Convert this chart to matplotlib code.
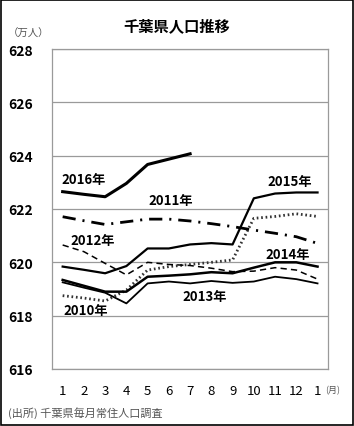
import matplotlib
matplotlib.use("Agg")
import matplotlib.pyplot as plt
from matplotlib.patches import Rectangle

plt.rcParams['font.family'] = ['Noto Sans CJK JP', 'DejaVu Sans']
plt.rcParams['lines.scale_dashes'] = False

# data (万人), months Jan .. next Jan
months = list(range(1, 14))
month_labels = ['1', '2', '3', '4', '5', '6', '7', '8', '9', '10', '11', '12', '1']
pop_2010 = [618.75, 618.66, 618.55, 618.96, 619.71, 619.84, 619.92, 620.00, 620.09, 621.65, 621.72, 621.82, 621.72]
pop_2011 = [621.71, 621.56, 621.42, 621.52, 621.62, 621.62, 621.55, 621.45, 621.34, 621.21, 621.09, 620.96, 620.71]
pop_2012 = [620.65, 620.40, 619.96, 619.53, 620.00, 619.92, 619.88, 619.78, 619.65, 619.67, 619.80, 619.71, 619.37]
pop_2013 = [619.25, 619.05, 618.86, 618.46, 619.21, 619.28, 619.21, 619.30, 619.23, 619.28, 619.46, 619.37, 619.21]
pop_2014 = [619.34, 619.12, 618.90, 618.90, 619.46, 619.50, 619.55, 619.63, 619.59, 619.80, 620.00, 620.00, 619.84]
pop_2015 = [619.84, 619.72, 619.59, 619.86, 620.52, 620.52, 620.67, 620.72, 620.67, 622.40, 622.58, 622.62, 622.62]
pop_2016 = [622.65, 622.55, 622.46, 622.96, 623.67, 623.87, 624.07]

fig = plt.figure(figsize=(3.54, 4.27), dpi=100)
ax = fig.add_axes([0.147, 0.1335, 0.78, 0.7494])

ax.plot(months, pop_2010, color='#333333', lw=2.0, linestyle=(0, (1.2, 2.0)))
ax.plot(months, pop_2011, color='black', lw=2.0, dashes=[9.5, 5, 1.5, 5])
ax.plot(months, pop_2012, color='black', lw=1.1, dashes=[4.5, 3])
ax.plot(months, pop_2013, color='black', lw=1.3)
ax.plot(months, pop_2014, color='black', lw=1.8)
ax.plot(months, pop_2015, color='black', lw=1.6)
ax.plot(months[:len(pop_2016)], pop_2016, color='black', lw=2.2)

lab = dict(fontsize=9.5, fontweight='bold', ha='center', va='center')
ax.text(2.0, 623.12, '2016年', **lab)
ax.text(6.1, 622.32, '2011年', **lab)
ax.text(11.7, 623.05, '2015年', **lab)
ax.text(2.4, 620.82, '2012年', **lab)
ax.text(11.6, 620.3, '2014年', **lab)
ax.text(7.7, 618.73, '2013年', **lab)
ax.text(2.1, 618.2, '2010年', **lab)

ax.set_xlim(0.5, 13.5)
ax.set_ylim(616, 628)
ax.set_yticks([616, 618, 620, 622, 624, 626, 628])
ax.set_xticks(months)
ax.set_xticklabels(month_labels)
ax.tick_params(axis='both', length=0)
ax.tick_params(axis='x', pad=11, labelsize=9.5)
ax.tick_params(axis='y', pad=14, labelsize=10)
for t in ax.get_yticklabels():
    t.set_fontweight('bold')
ax.grid(axis='y', color='#9a9a9a', lw=0.9)
ax.set_axisbelow(True)
for s in ax.spines.values():
    s.set_color('#9a9a9a')
    s.set_linewidth(0.9)

fig.text(0.5, 0.939, '千葉県人口推移', fontsize=11, fontweight='bold', ha='center', va='center')
fig.text(0.08, 0.922, '（万人）', fontsize=7.5, color='#555555', ha='center', va='center')
fig.text(0.941, 0.084, '(月)', fontsize=6.5, color='#555555', ha='center', va='center')
fig.text(0.022, 0.033, '(出所) 千葉県毎月常住人口調査', fontsize=8, color='#555555', ha='left', va='center')

fig.patches.append(Rectangle((0.002, 0.002), 0.996, 0.996, transform=fig.transFigure,
                             fill=False, edgecolor='black', lw=1.2))

fig.savefig('out.png', dpi=100)
